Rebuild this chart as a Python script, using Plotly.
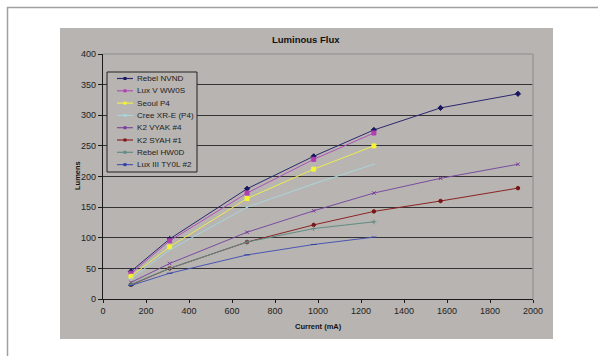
import plotly.graph_objects as go

# ---- data ----
current = [130, 310, 670, 980, 1260, 1570, 1930]
rebel_nvnd = [45, 98, 180, 233, 276, 312, 335]
lux_v_ww0s = [42, 95, 173, 228, 271]
seoul_p4 = [37, 85, 164, 212, 250]
cree_xre_p4 = [33, 80, 150, 188, 220]
k2_vyak_4 = [27, 58, 109, 144, 173, 197, 220]
k2_syah_1 = [23, 50, 93, 121, 143, 160, 181]
rebel_hw0d = [24, 50, 93, 115, 126]
lux_iii_ty0l_2 = [22, 42, 72, 89, 101]

names = ["Rebel NVND", "Lux V WW0S", "Seoul P4", "Cree XR-E (P4)",
         "K2 VYAK #4", "K2 SYAH #1", "Rebel HW0D", "Lux III TY0L #2"]
values = [rebel_nvnd, lux_v_ww0s, seoul_p4, cree_xre_p4,
          k2_vyak_4, k2_syah_1, rebel_hw0d, lux_iii_ty0l_2]

# ---- styles ----
line_colors = ["#2a2870", "#b050b8", "#ecec50", "#a9d4dc",
               "#7a4ca0", "#8a2424", "#5f8c84", "#4a56b0"]
marker_colors = ["#1a1660", "#b040b0", "#f4f430", "#a9d4dc",
                 "#7a3c9a", "#7a1414", "#5f8c84", "#3040a0"]
symbols = ["diamond", "square", "square", "circle",
           "x-thin-open", "circle", "cross-thin-open", "line-ew-open"]
msizes = [4, 4, 4, 1, 3.5, 3.5, 3.5, 4]

W, H = 598, 356
L, R, T, B = 103, 533, 54, 299  # plot area pixels
pw, ph = R - L, B - T

def px(x):
    return (x - L) / pw

def py(y):
    return (B - y) / ph

GRAY = "#b8b4b1"
FONT = "Liberation Sans, Arial, sans-serif"

fig = go.Figure()
for n, v, lc, mc, s, ms in zip(names, values, line_colors, marker_colors, symbols, msizes):
    fig.add_trace(go.Scatter(
        x=current[:len(v)], y=v, name=n, mode="lines+markers",
        line=dict(color=lc, width=1),
        marker=dict(symbol=s, size=ms, color=mc, line=dict(color=mc, width=1)),
        showlegend=False,
    ))

shapes = []
# outer frame lines
shapes.append(dict(type="line", xref="paper", yref="paper",
                   x0=px(7), x1=px(W + 5), y0=py(7.5), y1=py(7.5),
                   line=dict(color="#a0a0a0", width=1.5), layer="below"))
shapes.append(dict(type="line", xref="paper", yref="paper",
                   x0=px(7.5), x1=px(7.5), y0=py(7), y1=py(H + 5),
                   line=dict(color="#a0a0a0", width=1.5), layer="below"))
# gray chart area
shapes.append(dict(type="rect", xref="paper", yref="paper",
                   x0=px(60), x1=px(553), y0=py(339), y1=py(28),
                   fillcolor=GRAY, line=dict(width=0), layer="below"))
# plot border top and right (lighter)
shapes.append(dict(type="line", xref="paper", yref="paper",
                   x0=0, x1=1, y0=1, y1=1,
                   line=dict(color="#8e8e8e", width=1.2), layer="above"))
shapes.append(dict(type="line", xref="paper", yref="paper",
                   x0=1, x1=1, y0=0, y1=1,
                   line=dict(color="#9a9a9a", width=1.5), layer="above"))

# custom legend box
lx0, lx1, ly0, ly1 = 107, 197, 72, 172
shapes.append(dict(type="rect", xref="paper", yref="paper",
                   x0=px(lx0), x1=px(lx1), y0=py(ly1), y1=py(ly0),
                   fillcolor=GRAY, line=dict(color="#222222", width=1), layer="above"))
annotations = []
for i, (n, lc, mc) in enumerate(zip(names, line_colors, marker_colors)):
    yy = 78.5 + i * 12.3
    shapes.append(dict(type="line", xref="paper", yref="paper",
                       x0=px(117), x1=px(133), y0=py(yy), y1=py(yy),
                       line=dict(color=lc, width=1.2), layer="above"))
    shapes.append(dict(type="rect", xref="paper", yref="paper",
                       x0=px(123.5), x1=px(126.5), y0=py(yy + 1.5), y1=py(yy - 1.5),
                       fillcolor=mc, line=dict(width=0), layer="above"))
    annotations.append(dict(text=n, xref="paper", yref="paper",
                            x=px(135), y=py(yy), xanchor="left", yanchor="middle",
                            showarrow=False, font=dict(size=8.1, color="#222222", family=FONT)))

# titles
annotations.append(dict(text="<b>Luminous Flux</b>", xref="paper", yref="paper",
                        x=px(306), y=py(40), xanchor="center", yanchor="middle",
                        showarrow=False, font=dict(size=9.5, color="#111111", family=FONT)))
annotations.append(dict(text="<b>Current (mA)</b>", xref="paper", yref="paper",
                        x=px(318), y=py(326), xanchor="center", yanchor="middle",
                        showarrow=False, font=dict(size=7.5, color="#111111", family=FONT)))
annotations.append(dict(text="<b>Lumens</b>", xref="paper", yref="paper",
                        x=px(77), y=py(176), xanchor="center", yanchor="middle",
                        textangle=-90,
                        showarrow=False, font=dict(size=7.5, color="#111111", family=FONT)))

fig.update_layout(
    width=W, height=H,
    margin=dict(l=L, r=W - R, t=T, b=H - B, pad=0),
    paper_bgcolor="white",
    plot_bgcolor=GRAY,
    showlegend=False,
    shapes=shapes,
    annotations=annotations,
    font=dict(family=FONT, size=9, color="#222222"),
)
fig.update_xaxes(range=[0, 2000], dtick=200, showgrid=False, zeroline=False,
                 showline=True, linecolor="#1a1a1a", linewidth=1.2,
                 ticks="outside", ticklen=3, tickcolor="#1a1a1a", tickwidth=1,
                 tickfont=dict(size=9, color="#222222", family=FONT))
fig.update_yaxes(range=[0, 400], dtick=50, showgrid=True, gridcolor="#333333", gridwidth=1.2,
                 zeroline=False, showline=True, linecolor="#1a1a1a", linewidth=1.2,
                 ticks="outside", ticklen=4, tickcolor="#1a1a1a", tickwidth=1,
                 tickfont=dict(size=9, color="#222222", family=FONT))

fig.write_html("out.html", config={"displayModeBar": False},
               post_script="document.body.style.margin='0';")
